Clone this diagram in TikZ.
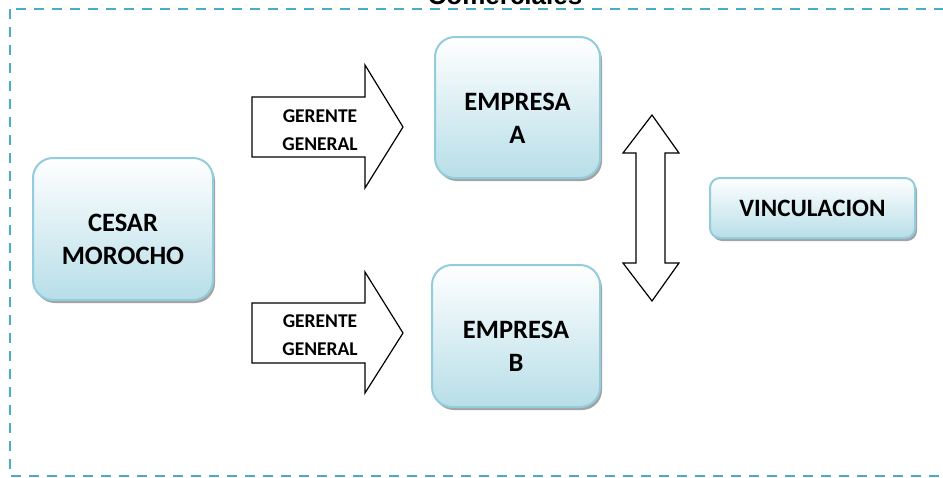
\documentclass[tikz,border=0pt]{standalone}
\usepackage{fontspec}
\setmainfont{Carlito}
\newfontfamily\titulofont{Liberation Sans}
\usetikzlibrary{shadows}
\definecolor{marco}{HTML}{4BACC6}
\definecolor{cajaborde}{HTML}{93CDDD}
\definecolor{cajafondo}{HTML}{B7DEE8}
\definecolor{sombra}{HTML}{8C8C8C}

\tikzset{
  caja/.style={draw=cajaborde, line width=2pt, rounded corners=20pt,
    top color=white, bottom color=cajafondo, align=center,
    font=\bfseries\fontsize{26.5}{33}\selectfont,
    drop shadow={shadow xshift=2pt, shadow yshift=-3pt, fill=sombra, opacity=0.8}},
  dosrenglones/.style={text height=71pt},
  flecha/.style={draw=black, line width=1.2pt, fill=white, line join=miter},
  rotulo/.style={font=\bfseries\fontsize{19.5}{28}\selectfont, align=center}
}

\begin{document}
\begin{tikzpicture}[x=1pt,y=-1pt]
  \useasboundingbox (0,0) rectangle (943,477);
  % marco punteado
  \draw[marco, line width=2pt, dash pattern=on 10pt off 8pt] (10,9) rectangle (946,476);
  \node[font=\titulofont\bfseries\fontsize{26}{30}\selectfont, anchor=base] (titulo) at (505,4) {Comerciales};

  % cajas
  \node[caja, dosrenglones, minimum width=180pt, minimum height=142pt] (cesar) at (123,229) {CESAR\\MOROCHO};
  \node[caja, dosrenglones, minimum width=165pt, minimum height=141pt] (empresaa) at (517.5,107.5) {EMPRESA\\A};
  \node[caja, dosrenglones, minimum width=168pt, minimum height=142pt] (empresab) at (516,336) {EMPRESA\\B};
  \node[caja, rounded corners=10pt, font=\bfseries\fontsize{25}{30}\selectfont,
    minimum width=205pt, minimum height=60pt] (vinculacion) at (812.5,208) {VINCULACION};

  % flechas de bloque
  \draw[flecha] (252,97) -- (365,97) -- (365,65) -- (403,127) -- (365,188) -- (365,157) -- (252,157) -- cycle;
  \draw[flecha] (252,303) -- (365,303) -- (365,272) -- (403,333) -- (365,393) -- (365,363) -- (252,363) -- cycle;
  \node[rotulo] (gerentea) at (320,130) {GERENTE\\GENERAL};
  \node[rotulo] (gerenteb) at (320,335.5) {GERENTE\\GENERAL};

  \draw[flecha] (652,115) -- (679,153) -- (665,153) -- (665,263) -- (679,263) -- (652,301)
    -- (623,263) -- (636,263) -- (636,153) -- (623,153) -- cycle;
\end{tikzpicture}
\end{document}
